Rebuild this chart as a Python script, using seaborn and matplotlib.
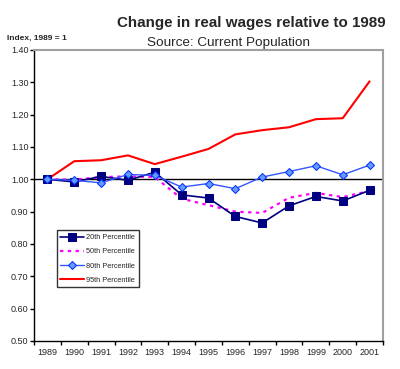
import seaborn as sns
import matplotlib.pyplot as plt
import pandas as pd

years = ['1989', '1990', '1991', '1992', '1993', '1994', '1995',
         '1996', '1997', '1998', '1999', '2000', '2001']
p20 = [1.000, 0.992, 1.009, 0.997, 1.022, 0.952, 0.942, 0.885, 0.865, 0.918, 0.947, 0.933, 0.966]
p50 = [1.000, 0.999, 1.007, 1.009, 1.007, 0.940, 0.920, 0.900, 0.896, 0.943, 0.958, 0.945, 0.964]
p80 = [1.000, 0.997, 0.989, 1.015, 1.012, 0.976, 0.987, 0.971, 1.007, 1.024, 1.042, 1.014, 1.044]
p95 = [1.000, 1.056, 1.059, 1.074, 1.047, 1.070, 1.094, 1.139, 1.152, 1.161, 1.186, 1.189, 1.303]

sns.set_style('white')
plt.rcParams['font.family'] = ['Liberation Sans', 'DejaVu Sans']

df = pd.DataFrame({'x': range(len(years)), 'p20': p20, 'p50': p50, 'p80': p80, 'p95': p95})

fig = plt.figure(figsize=(4, 3.69), dpi=100)
ax = fig.add_axes([0.085, 0.076, 0.8725, 0.7885])

ax.axhline(1.0, color='black', lw=1, zorder=1)

sns.lineplot(data=df, x='x', y='p20', ax=ax, color='#000080', lw=1.2, marker='s',
             markersize=6, markeredgecolor='#000080', label='20th Percentile', zorder=3)
sns.lineplot(data=df, x='x', y='p50', ax=ax, color='#FF00FF', lw=1.6, linestyle=(0, (1.5, 2)),
             label='50th Percentile', zorder=2)
sns.lineplot(data=df, x='x', y='p80', ax=ax, color='#3355FF', lw=1, marker='D',
             markersize=4.5, markerfacecolor='#6699FF', markeredgecolor='#0033FF',
             label='80th Percentile', zorder=4)
sns.lineplot(data=df, x='x', y='p95', ax=ax, color='#FF0000', lw=1.5,
             label='95th Percentile', zorder=2)

ax.set_xlim(-0.5, len(years) - 0.5)
ax.set_ylim(0.5, 1.4)
ax.set_yticks([0.5 + 0.1 * i for i in range(10)])
ax.set_yticklabels([f'{0.5 + 0.1 * i:.2f}' for i in range(10)], fontsize=6.5)
ax.set_xticks([i - 0.5 for i in range(len(years) + 1)])
ax.set_xticklabels([])
ax.set_xticks(range(len(years)), minor=True)
ax.set_xticklabels(years, minor=True, fontsize=6.5)
ax.tick_params(axis='x', which='major', direction='out', length=3, width=1, color='black', bottom=True)
ax.tick_params(axis='x', which='minor', length=0, pad=5)
ax.tick_params(axis='y', direction='out', length=3, width=1, color='black', left=True, pad=1)
ax.set_xlabel('')
ax.set_ylabel('')

for s in ['left', 'bottom']:
    ax.spines[s].set_color('black')
    ax.spines[s].set_linewidth(1)
for s in ['top', 'right']:
    ax.spines[s].set_color('#A0A0A0')
    ax.spines[s].set_linewidth(1.5)

leg = ax.legend(loc='upper left', bbox_to_anchor=(0.065, 0.38), fontsize=5.3, frameon=True,
                fancybox=False, edgecolor='black', handlelength=3.2, borderpad=0.5,
                labelspacing=0.95, handletextpad=0.3, borderaxespad=0)
leg.get_frame().set_linewidth(1)

fig.text(0.628, 0.927, 'Change in real wages relative to 1989', ha='center', fontsize=10.9, fontweight='bold')
fig.text(0.572, 0.875, 'Source: Current Population', ha='center', fontsize=9.7)
fig.text(0.018, 0.893, 'Index, 1989 = 1', ha='left', fontsize=6, fontweight='bold')

fig.savefig('out.png', dpi=100)
